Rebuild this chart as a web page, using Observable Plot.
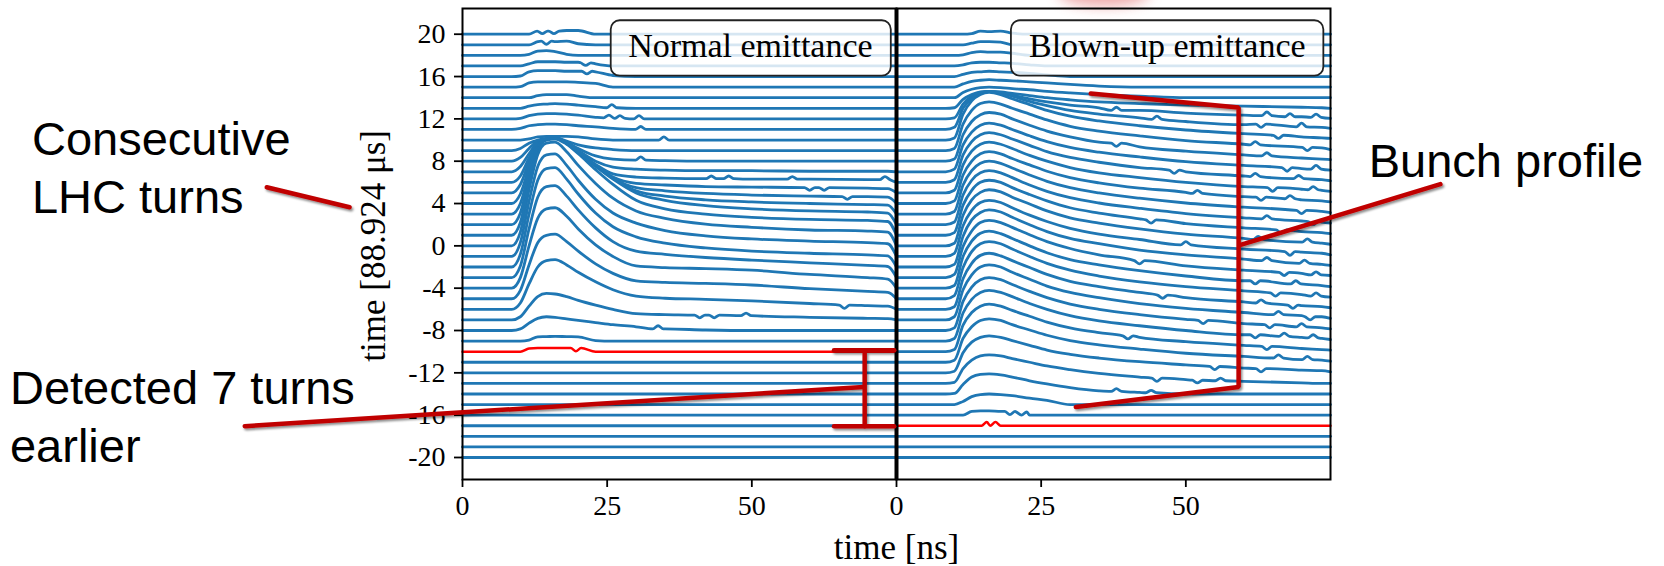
<!DOCTYPE html>
<html><head><meta charset="utf-8">
<script src="https://cdn.jsdelivr.net/npm/d3@7"></script>
<script src="https://cdn.jsdelivr.net/npm/@observablehq/plot@0.6"></script>
<style>html,body{margin:0;padding:0;background:#fff;} #chart{width:1664px;height:566px;overflow:hidden;}</style>
</head><body><div id="chart"></div>
<script>
// ---------------- data ----------------
const panels = ["Normal emittance", "Blown-up emittance"];
const turns = [-20,-19,-18,-17,-16,-15,-14,-13,-12,-11,-10,-9,-8,-7,-6,-5,-4,-3,-2,-1,0,1,2,3,4,5,6,7,8,9,10,11,12,13,14,15,16,17,18,19,20];
const xTicks = [0, 25, 50];
const yTicks = [-20, -16, -12, -8, -4, 0, 4, 8, 12, 16, 20];
// sample times [ns] at which the bunch-profile signal of each turn was read
const gridNs = [0, 8.5, 10, 11.5, 13, 14.5, 16, 18, 20, 23, 26, 30, 35, 42, 50, 60, 70, 73.5, 75];
// [turn, signal at each gridNs] — turns not listed carry no signal
const normalRows = [
  [-10, 0,0,0,0.3,0.35,0.35,0.35,0.35,0.3,0,0,0,0,0,0,0,0,0,0],
  [-9, 0,0,0,0.1,0.4,0.42,0.45,0.42,0.4,0.05,0,0,0,0,0,0,0,0,0],
  [-8, 0,0,0.15,0.7,1.15,1.3,1.25,1.1,0.95,0.75,0.55,0.35,0.15,0.05,0,0,0,0,0],
  [-7, 0,0,0.3,1.3,2.2,2.5,2.45,2.2,1.85,1.4,1.0,0.6,0.5,0.45,0.4,0.25,0.15,0.12,0],
  [-6, 0,0,0.6,2.4,4.0,4.6,4.7,4.2,3.5,2.6,1.85,1.25,1.05,0.95,0.8,0.55,0.35,0.3,0],
  [-5, 0,0,0.8,3.2,5.3,6.0,6.1,5.4,4.5,3.3,2.4,1.7,1.55,1.45,1.3,0.95,0.7,0.6,0],
  [-4, 0,0,1.0,4.0,6.6,7.5,7.6,6.8,5.6,4.1,3.0,2.1,1.95,1.85,1.7,1.3,1.0,0.85,0],
  [-3, 0,0,1.1,4.6,7.6,8.6,8.7,7.7,6.4,4.7,3.4,2.5,2.2,1.9,1.65,1.4,1.15,1.05,0],
  [-2, 0,0,1.2,5.0,8.2,9.3,9.4,8.3,6.9,5.1,3.8,2.85,2.25,1.8,1.5,1.3,1.15,1.05,0],
  [-1, 0,0,1.3,5.2,8.5,9.6,9.7,8.6,7.2,5.4,4.1,3.15,2.45,1.95,1.65,1.45,1.3,1.2,0],
  [0, 0,0,1.3,5.3,8.6,9.7,9.8,8.9,7.6,5.9,4.5,3.3,2.6,2.05,1.75,1.5,1.4,1.3,0],
  [1, 0,0,1.2,4.9,8.0,9.0,9.1,8.6,7.7,6.2,4.8,3.3,2.5,2.0,1.7,1.5,1.4,1.3,0],
  [2, 0,0,1.1,4.4,7.2,8.1,8.2,7.7,6.8,5.5,4.3,3.0,2.3,1.8,1.5,1.3,1.2,1.1,0],
  [3, 0,0,1.0,3.9,6.3,7.1,7.2,6.7,5.9,4.6,3.4,2.2,1.7,1.35,1.15,1.0,0.9,0.85,0],
  [4, 0,0,0.9,3.4,5.5,6.1,6.2,5.7,4.9,3.6,2.4,1.5,1.2,0.95,0.8,0.7,0.65,0.6,0],
  [5, 0,0,0.8,2.9,4.6,5.1,5.2,4.7,3.9,2.6,1.5,0.9,0.75,0.6,0.55,0.5,0.45,0.4,0],
  [6, 0,0,0.6,2.3,3.7,4.1,4.2,3.7,2.9,1.7,0.8,0.5,0.4,0.35,0.3,0.3,0.25,0.25,0],
  [7, 0,0,0.5,1.7,2.8,3.1,3.2,2.7,2.0,1.0,0.45,0.25,0.15,0.1,0.1,0.05,0.05,0.05,0],
  [8, 0,0,0.35,1.2,1.9,2.1,2.2,1.8,1.2,0.5,0.2,0.1,0.05,0,0,0,0,0,0],
  [9, 0,0,0.2,0.7,1.0,1.15,1.2,0.9,0.55,0.25,0.1,0,0,0,0,0,0,0,0],
  [10, 0,0,0,0.1,0.3,0.35,0.35,0.35,0.3,0.1,0,0,0,0,0,0,0,0,0],
  [11, 0,0,0.1,0.35,0.45,0.5,0.5,0.45,0.35,0.25,0.1,0,0,0,0,0,0,0,0],
  [12, 0,0,0.05,0.3,0.45,0.5,0.5,0.45,0.35,0.15,0.05,0,0,0,0,0,0,0,0],
  [13, 0,0,0,0.2,0.35,0.4,0.45,0.4,0.3,0.15,0,0,0,0,0,0,0,0,0],
  [14, 0,0,0,0,0.2,0.3,0.3,0.3,0.15,0,0,0,0,0,0,0,0,0,0],
  [15, 0,0,0.05,0.4,0.5,0.5,0.5,0.5,0.45,0.35,0,0,0,0,0,0,0,0,0],
  [16, 0,0,0.05,0.45,0.55,0.55,0.55,0.5,0.5,0.45,0.1,0,0,0,0,0,0,0,0],
  [17, 0,0,0,0.2,0.4,0.4,0.4,0.35,0.35,0.2,0,0,0,0,0,0,0,0,0],
  [18, 0,0,0,0.1,0.4,0.45,0.35,0.1,0,0,0,0,0,0,0,0,0,0,0],
  [19, 0,0,0,0,0.3,0.35,0.3,0.35,0.1,0,0,0,0,0,0,0,0,0,0],
  [20, 0,0,0,0,0.3,0.25,0.3,0.35,0.35,0,0,0,0,0,0,0,0,0,0]
];
const blownRows = [
  [-16, 0,0,0,0,0.35,0.4,0.4,0.35,0.3,0,0,0,0,0,0,0,0,0,0],
  [-15, 0,0,0,0.3,0.75,0.95,1.0,0.95,0.85,0.6,0.4,0,0,0,0,0,0,0,0],
  [-14, 0,0,0.05,0.9,1.6,1.85,1.9,1.8,1.6,1.25,0.95,0.6,0.3,0.15,0,0,0,0,0],
  [-13, 0,0,0.1,1.4,2.2,2.6,2.7,2.6,2.35,2.0,1.65,1.3,0.95,0.6,0.35,0.2,0.05,0,0],
  [-12, 0,0,0.15,1.9,2.9,3.35,3.5,3.35,3.05,2.6,2.15,1.75,1.4,1.05,0.75,0.45,0.25,0.2,0.1],
  [-11, 0,0,0.2,2.25,3.35,3.95,4.1,3.95,3.55,3.05,2.55,2.05,1.65,1.25,0.85,0.55,0.3,0.2,0.1],
  [-10, 0,0,0.2,2.5,3.7,4.3,4.5,4.3,3.9,3.35,2.8,2.25,1.8,1.35,0.95,0.6,0.3,0.2,0.15],
  [-9, 0,0,0.25,2.65,3.95,4.6,4.8,4.6,4.2,3.55,3.0,2.4,1.9,1.45,1.0,0.6,0.35,0.25,0.15],
  [-8, 0,0,0.25,2.75,4.1,4.8,5.0,4.8,4.35,3.7,3.1,2.5,2.0,1.5,1.05,0.65,0.35,0.25,0.15],
  [-7, 0,0,0.3,2.85,4.25,5.0,5.2,5.0,4.5,3.85,3.2,2.6,2.1,1.55,1.1,0.7,0.4,0.3,0.15],
  [-6, 0,0,0.25,2.9,4.35,5.1,5.3,5.05,4.6,3.95,3.3,2.65,2.15,1.6,1.1,0.7,0.35,0.25,0.15],
  [-5, 0,0,0.3,2.95,4.45,5.2,5.4,5.2,4.7,4.0,3.35,2.7,2.15,1.6,1.15,0.75,0.4,0.3,0.15],
  [-4, 0,0,0.25,3.0,4.45,5.2,5.4,5.15,4.7,4.0,3.35,2.7,2.2,1.65,1.15,0.7,0.4,0.25,0.15],
  [-3, 0,0,0.3,2.95,4.4,5.2,5.4,5.2,4.75,4.05,3.4,2.75,2.15,1.6,1.1,0.7,0.4,0.3,0.2],
  [-2, 0,0,0.25,2.9,4.45,5.15,5.4,5.2,4.7,4.0,3.35,2.7,2.2,1.6,1.15,0.75,0.4,0.25,0.15],
  [-1, 0,0,0.3,2.9,4.35,5.1,5.3,5.1,4.6,3.9,3.3,2.65,2.1,1.6,1.1,0.7,0.4,0.3,0.15],
  [0, 0,0,0.25,2.9,4.35,5.05,5.3,5.1,4.6,3.95,3.3,2.65,2.15,1.6,1.1,0.7,0.35,0.25,0.15],
  [1, 0,0,0.25,2.85,4.25,5.0,5.2,5.0,4.5,3.85,3.25,2.6,2.1,1.55,1.1,0.7,0.35,0.25,0.15],
  [2, 0,0,0.25,2.8,4.2,4.9,5.1,4.9,4.45,3.75,3.15,2.55,2.05,1.55,1.05,0.65,0.35,0.25,0.15],
  [3, 0,0,0.25,2.75,4.1,4.8,5.0,4.8,4.35,3.7,3.1,2.5,2.0,1.5,1.05,0.65,0.35,0.25,0.15],
  [4, 0,0,0.25,2.7,4.0,4.7,4.9,4.7,4.25,3.65,3.05,2.45,1.95,1.45,1.05,0.65,0.35,0.25,0.15],
  [5, 0,0,0.25,2.65,3.95,4.6,4.8,4.6,4.2,3.55,3.0,2.4,1.9,1.45,1.0,0.6,0.35,0.25,0.15],
  [6, 0,0,0.25,2.6,3.85,4.5,4.7,4.5,4.1,3.5,2.9,2.35,1.9,1.4,1.0,0.6,0.35,0.25,0.15],
  [7, 0,0,0.25,2.55,3.75,4.4,4.6,4.4,4.0,3.4,2.85,2.3,1.85,1.4,0.95,0.6,0.3,0.25,0.15],
  [8, 0,0,0.2,2.5,3.75,4.4,4.6,4.45,4.0,3.4,2.85,2.3,1.8,1.35,0.95,0.6,0.3,0.2,0.15],
  [9, 0,0,0.2,2.5,3.8,4.45,4.6,4.4,4.0,3.45,2.9,2.3,1.85,1.4,0.95,0.6,0.3,0.25,0.1],
  [10, 0,0,0.2,2.45,3.7,4.3,4.5,4.3,3.9,3.35,2.8,2.25,1.8,1.35,0.95,0.6,0.3,0.2,0.15],
  [11, 0,0,0.2,2.0,2.95,3.45,3.6,3.45,3.15,2.65,2.25,1.8,1.45,1.1,0.75,0.45,0.25,0.2,0.1],
  [12, 0,0,0.1,1.4,2.15,2.5,2.6,2.5,2.25,1.9,1.6,1.3,1.05,0.8,0.55,0.35,0.2,0.15,0.05],
  [13, 0,0,0.05,0.85,1.3,1.55,1.6,1.55,1.4,1.2,1.0,0.8,0.6,0.45,0.3,0.2,0.1,0.05,0],
  [14, 0,0,0,0.5,0.8,0.95,1.0,0.95,0.85,0.75,0.6,0.45,0.3,0.15,0,0,0,0,0],
  [15, 0,0,0,0.3,0.55,0.65,0.7,0.65,0.6,0.5,0.4,0.25,0.1,0,0,0,0,0,0],
  [16, 0,0,0,0.2,0.4,0.45,0.5,0.45,0.4,0.3,0.15,0,0,0,0,0,0,0,0],
  [17, 0,0,0,0.1,0.3,0.35,0.35,0.3,0.25,0.1,0,0,0,0,0,0,0,0,0],
  [18, 0,0,0,0.05,0.25,0.35,0.3,0.3,0.2,0,0,0,0,0,0,0,0,0,0],
  [19, 0,0,0,0,0.15,0.3,0.3,0.25,0,0,0,0,0,0,0,0,0,0,0],
  [20, 0,0,0,0,0.05,0.3,0.25,0.3,0.1,0,0,0,0,0,0,0,0,0,0]
];
// noise spikes: [turn, time ns, signal beside spike, signal at spike]
const normalWiggles = [
  [-10, 19.6, 0.35, 0.05], [-8, 33.8, 0.15, 0.45], [-7, 41, 0.45, 0.2], [-7, 43.5, 0.45, 0.2],
  [-7, 49, 0.4, 0.65], [-6, 66, 0.4, 0.1], [4, 66.5, 0.65, 0.4], [5, 60, 0.5, 0.25],
  [5, 62.5, 0.5, 0.25], [6, 43, 0.35, 0.6], [6, 46, 0.35, 0.6], [6, 57, 0.3, 0.55],
  [6, 73, 0.25, 0.55], [8, 30.8, 0.1, 0.4], [10, 34.8, 0, 0.3], [11, 30.8, 0, 0.28],
  [12, 25.3, 0.1, 0.35], [12, 27.2, 0.05, 0.3], [12, 30.5, 0, 0.3], [13, 25.8, 0.05, 0.35],
  [16, 21.5, 0.5, 0.25], [17, 21.3, 0.3, 0.05], [19, 14.5, 0.35, 0.05], [20, 13.8, 0.3, 0.05],
  [20, 15.8, 0.3, 0.05]
];
const blownWiggles = [
  [-17, 15.6, 0, 0.35], [-17, 17.1, 0, 0.35], [-16, 19.6, 0.35, 0.05], [-16, 21.6, 0.3, 0],
  [-14, 38, 0.25, 0.5], [-14, 44, 0.12, 0.35], [-13, 45, 0.5, 0.2], [-13, 52, 0.3, 0.05],
  [-13, 56, 0.25, 0.5], [-12, 55, 0.6, 0.3], [-12, 63, 0.4, 0.1], [-11, 66, 0.4, 0.7],
  [-11, 71, 0.25, 0.55], [-10, 40, 1.5, 1.2], [-10, 64, 0.5, 0.2], [-9, 62, 0.6, 0.3],
  [-9, 67, 0.45, 0.75], [-9, 72, 0.3, 0.6], [-8, 53, 0.95, 0.65], [-8, 64.5, 0.55, 0.25],
  [-8, 70, 0.35, 0.65], [-7, 66, 0.5, 0.8], [-7, 71.5, 0.3, 0], [-6, 46, 1.35, 1.05],
  [-6, 63, 0.6, 0.9], [-6, 68.5, 0.4, 0.1], [-5, 65.5, 0.55, 0.25], [-5, 72.5, 0.25, 0.55],
  [-4, 62, 0.7, 0.4], [-4, 69, 0.4, 0.7], [-3, 42, 1.6, 1.3], [-3, 67, 0.5, 0.2],
  [-3, 72.5, 0.25, 0.55], [-2, 64, 0.6, 0.9], [-2, 70.5, 0.35, 0.65], [-1, 50, 1.1, 1.4],
  [-1, 68, 0.45, 0.1], [0, 62.5, 0.6, 0.9], [0, 71, 0.35, 0.65], [1, 44, 1.45, 1.15],
  [1, 66.5, 0.5, 0.2], [2, 64, 0.55, 0.85], [2, 72, 0.3, 0], [3, 70, 0.35, 0.05],
  [4, 52, 0.95, 1.25], [4, 63, 0.6, 0.3], [4, 68, 0.45, 0.75], [5, 65, 0.5, 0.15],
  [5, 72, 0.3, 0.6], [6, 48, 1.15, 0.85], [6, 62, 0.55, 0.85], [6, 69.5, 0.35, 0.65],
  [7, 67.5, 0.4, 0.05], [7, 72.5, 0.25, 0.6], [8, 38, 1.7, 1.4], [8, 64, 0.5, 0.8],
  [9, 62, 0.55, 0.85], [9, 71, 0.3, 0], [10, 66, 0.45, 0.15], [11, 45, 0.95, 1.25],
  [11, 63, 0.5, 0.2], [11, 70, 0.25, 0.6], [12, 38, 0.8, 1.1], [12, 64, 0.3, 0.65],
  [12, 68, 0.2, 0.5], [12, 72.5, 0.15, 0.45]
];
const normalDetectedTurn = -10;
const blownDetectedTurn = -17;

// ---------------- build tidy table ----------------
const SPIKE_HALF_WIDTH = 0.9; // ns
function buildLines(panel, rows, wiggles, detected) {
  const out = [];
  for (const t of turns) {
    const row = rows.find(r => r[0] === t);
    const ws = wiggles.filter(w => w[0] === t);
    let pts = gridNs.map((x, i) => ({x, v: row ? row[i + 1] : 0}));
    for (const w of ws) {
      pts = pts.filter(p => Math.abs(p.x - w[1]) > SPIKE_HALF_WIDTH + 0.15);
      pts.push({x: w[1] - SPIKE_HALF_WIDTH, v: w[2]}, {x: w[1], v: w[3]}, {x: w[1] + SPIKE_HALF_WIDTH, v: w[2]});
    }
    pts.sort((a, b) => a.x - b.x);
    for (const p of pts) out.push({panel, turn: t, x: p.x, y: t + p.v, detected: t === detected});
  }
  return out;
}
const lineData = [
  ...buildLines(panels[0], normalRows, normalWiggles, normalDetectedTurn),
  ...buildLines(panels[1], blownRows, blownWiggles, blownDetectedTurn)
];

// ---------------- annotations (in data units of each panel) ----------------
const L = panels[0], R = panels[1];
const boxes = [
  {panel: L, x1: 25.7, x2: 74.1, y1: 16.03, y2: 21.27, cx: 49.75, cy: 18.85, label: "Normal emittance"},
  {panel: R, x1: 19.86, x2: 73.85, y1: 16.03, y2: 21.27, cx: 46.8, cy: 18.85, label: "Blown-up emittance"}
];
const annoLines = [
  {id: "turns", panel: L, pts: [[-33.83, 5.54], [-19.51, 3.65]]},
  {id: "detected", panel: L, pts: [[-37.63, -17.04], [69.3, -13.33]]},
  {id: "ibeamV", panel: L, pts: [[69.5, -9.86], [69.5, -17.04]]},
  {id: "ibeamTop", panel: L, pts: [[64.2, -9.86], [74.6, -9.86]]},
  {id: "ibeamBot", panel: L, pts: [[64.2, -17.04], [74.6, -17.04]]},
  {id: "bracket", panel: R, pts: [[33.57, 14.4], [59.12, 13.07], [59.12, -13.33], [30.99, -15.22]]},
  {id: "profile", panel: R, pts: [[59.3, 0.06], [93.99, 5.83]]}
];
const annoPts = annoLines.flatMap(a => a.pts.map(([x, y]) => ({id: a.id, panel: a.panel, x, y})));
const annoTexts = [
  {panel: L, x: -74.4, y: 3.09, text: "Consecutive\nLHC turns"},
  {panel: L, x: -78.2, y: -20.44, text: "Detected 7 turns\nearlier"},
  {panel: R, x: 81.6, y: 6.49, text: "Bunch profile"}
];
const axisTexts = [
  {panel: L, x: -13.46, y: 0, text: "time [88.924 μs]", rotate: -90},
  {panel: L, x: 75, y: -29.6, text: "time [ns]", rotate: 0}
];

const BLUE = "#1f77b4", RED = "#ff0000", ANNO = "#c00000";

const chart = Plot.plot({
  width: 1664, height: 566,
  marginLeft: 461, marginRight: 334, marginTop: 8, marginBottom: 87,
  style: {fontFamily: "Liberation Serif", fontSize: "28px", background: "white", overflow: "visible", color: "black"},
  fx: {domain: panels, padding: 0, axis: null, label: null},
  x: {domain: [0, 75]},
  y: {domain: [-22.08, 22.43]},
  marks: [
    Plot.line(lineData.filter(d => !d.detected), {x: "x", y: "y", z: "turn", fx: "panel", stroke: BLUE, strokeWidth: 2.8, curve: "monotone-x"}),
    Plot.line(lineData.filter(d => d.detected), {x: "x", y: "y", z: "turn", fx: "panel", stroke: RED, strokeWidth: 2.5, curve: "monotone-x"}),
    Plot.rect(boxes, {x1: "x1", x2: "x2", y1: "y1", y2: "y2", fx: "panel", fill: "white", fillOpacity: 0.82, stroke: "#222", strokeWidth: 1.8, rx: 9}),
    Plot.text(boxes, {x: "cx", y: "cy", text: "label", fx: "panel", fontSize: 34, fontFamily: "Liberation Serif", fill: "black", lineAnchor: "middle"}),
    Plot.frame({stroke: "black", strokeWidth: 2}),
    Plot.ruleX([{panel: L, x: 75}], {x: "x", fx: "panel", stroke: "black", strokeWidth: 4}),
    Plot.axisX({ticks: xTicks, tickSize: 8, tickPadding: 8, strokeWidth: 1.8, label: null, tickFormat: d => String(d)}),
    Plot.axisY({ticks: yTicks, tickSize: 8, tickPadding: 9, strokeWidth: 1.8, label: null, tickFormat: d => String(d)}),
    Plot.line(annoPts, {x: "x", y: "y", z: "id", fx: "panel", stroke: ANNO, strokeWidth: 4.5, strokeLinejoin: "miter"}),
    Plot.text(annoTexts, {x: "x", y: "y", text: "text", fx: "panel", textAnchor: "start", lineAnchor: "bottom", lineHeight: 1.24, fontSize: 47, fontFamily: "Liberation Sans", fill: "black"}),
    Plot.text(axisTexts, {x: "x", y: "y", text: "text", fx: "panel", rotate: "rotate", textAnchor: "middle", lineAnchor: "bottom", fontSize: 35, fontFamily: "Liberation Serif", fill: "black"})
  ]
});
document.getElementById("chart").appendChild(chart);

// subtle drop shadow under the red annotation strokes, and the faint red slide remnant at the top edge
const svg = d3.select(chart.tagName.toLowerCase() === "svg" ? chart : chart.querySelector("svg"));
const defs = svg.insert("defs", ":first-child");
defs.append("filter").attr("id", "annoShadow").attr("x", "-20%").attr("y", "-20%").attr("width", "140%").attr("height", "140%")
  .append("feDropShadow").attr("dx", 1.5).attr("dy", 2).attr("stdDeviation", 1.3).attr("flood-opacity", 0.45);
defs.append("filter").attr("id", "blobBlur").attr("x", "-50%").attr("y", "-50%").attr("width", "200%").attr("height", "200%")
  .append("feGaussianBlur").attr("stdDeviation", 7);
svg.selectAll(`g[stroke="${ANNO}"]`).attr("filter", "url(#annoShadow)");
svg.insert("ellipse", "defs + *").attr("cx", 1104).attr("cy", -8).attr("rx", 46).attr("ry", 14)
  .attr("fill", "#e06060").attr("opacity", 0.55).attr("filter", "url(#blobBlur)");
</script>
</body></html>
